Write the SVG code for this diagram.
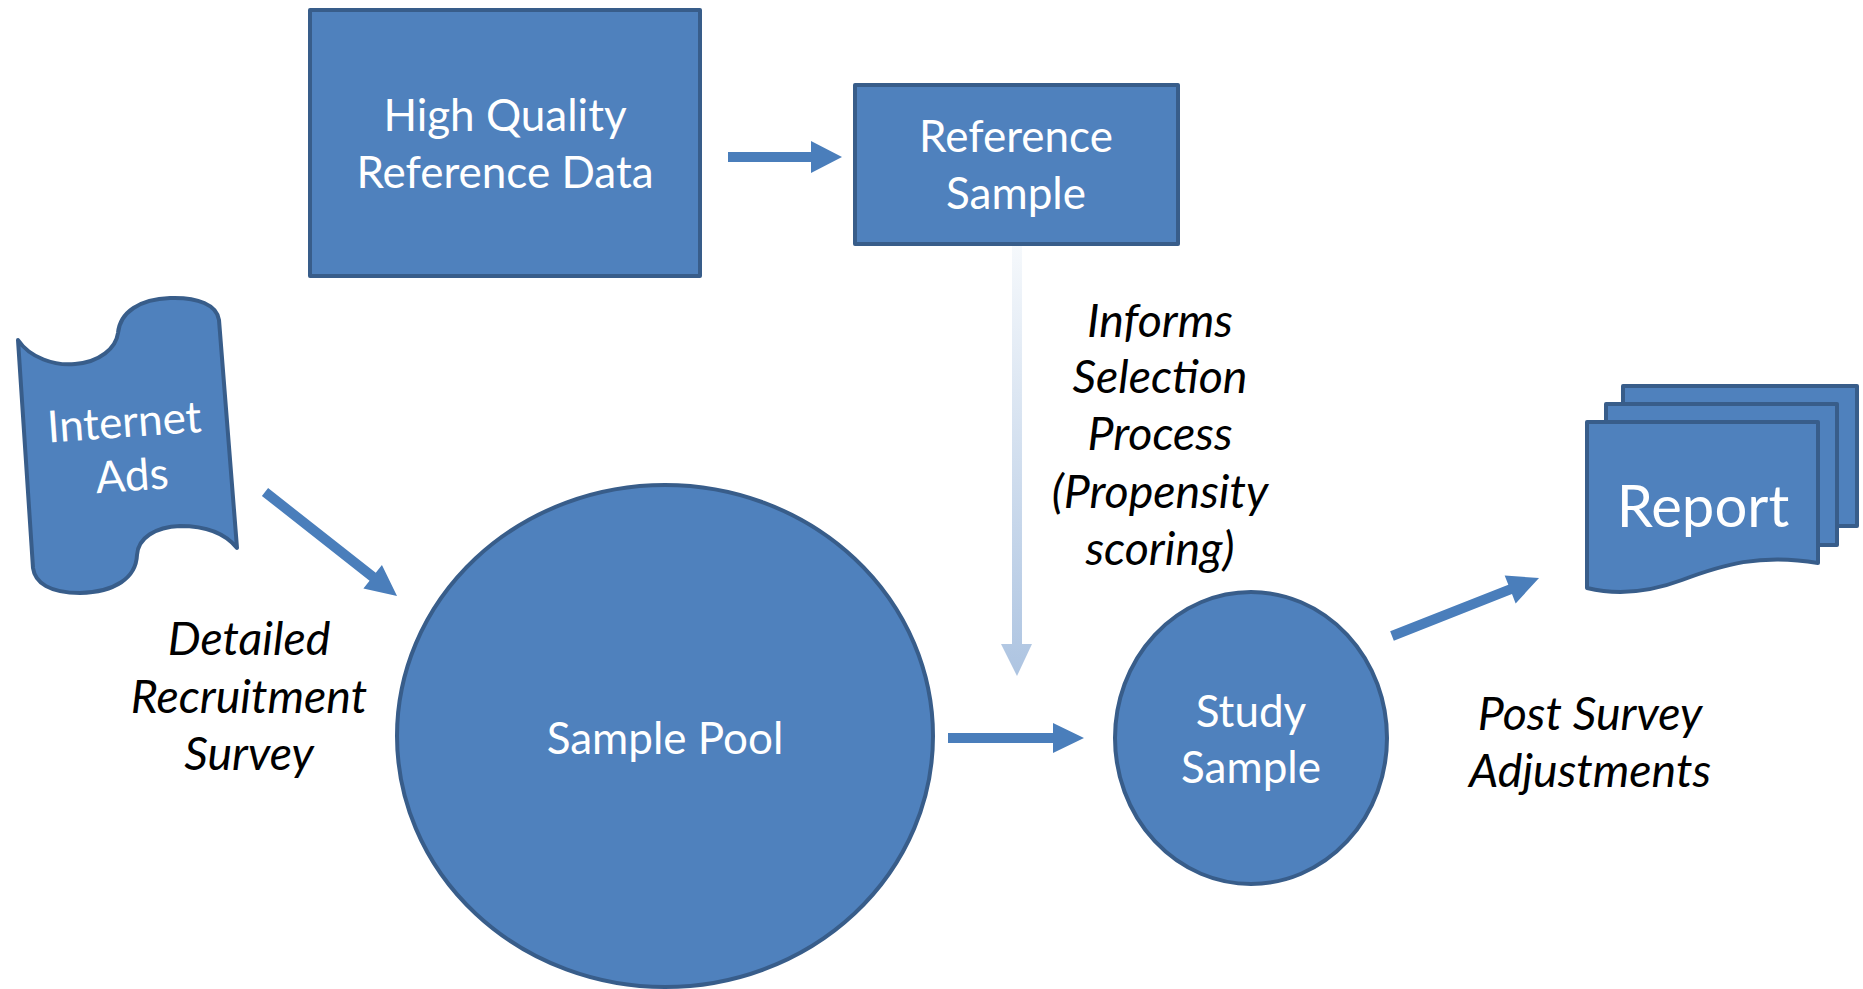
<svg xmlns="http://www.w3.org/2000/svg" width="1863" height="989" viewBox="0 0 1863 989">
<defs>
<linearGradient id="fade" gradientUnits="userSpaceOnUse" x1="0" y1="243" x2="0" y2="676">
<stop offset="0" stop-color="#f6f9fc"/>
<stop offset="1" stop-color="#adc4e1"/>
</linearGradient>
</defs>
<style>
.shape{fill:#4f81bd;stroke:#385d8a;stroke-width:4;stroke-linejoin:round}
.arrow{fill:#4a7ebb}
.nt{font-family:Lato,"Open Sans","Liberation Sans",sans-serif;font-size:44px;fill:#ffffff;text-anchor:middle}
.lb{font-family:Lato,"Open Sans","Liberation Sans",sans-serif;font-size:46.5px;font-style:italic;fill:#000000;text-anchor:middle}
</style>
<rect width="1863" height="989" fill="#ffffff"/>
<g id="connectors">
<polygon class="arrow" points="728,152 811,152 811,141 842,157 811,173 811,162 728,162"/>
<polygon fill="url(#fade)" points="1012,243 1022,243 1022,644 1032,644 1017,676 1001,644 1012,644"/>
<polygon class="arrow" transform="translate(265,492) rotate(38.2)" points="0,-5 137,-5 137,-15 168,0 137,15 137,5 0,5"/>
<polygon class="arrow" points="948,733 1053,733 1053,723 1084,738 1053,753 1053,743 948,743"/>
<polygon class="arrow" transform="translate(1392,636) rotate(-21.5)" points="0,-5 127,-5 127,-15 158,0 127,15 127,5 0,5"/>
</g>
<g id="high-quality-reference-data">
<rect class="shape" x="310" y="10" width="390" height="266"/>
<text class="nt" x="505" y="131">High Quality</text>
<text class="nt" x="505" y="188">Reference Data</text>
</g>
<g id="reference-sample">
<rect class="shape" x="855" y="85" width="323" height="159"/>
<text class="nt" x="1016" y="152">Reference</text>
<text class="nt" x="1016" y="209">Sample</text>
</g>
<g id="internet-ads">
<path class="shape" d="M18,340 C30,358 55,366 75,364 C100,362 116,348 118,333 C120,312 140,299 170,298 C198,297 217,305 219,320 L237,548 C225,533 205,526 180,526 C155,527 138,538 137,555 C136,578 115,592 80,593 C50,593 35,583 33,568 Z"/>
<g transform="rotate(-4 129 462)">
<text class="nt" x="127" y="437">Internet</text>
<text class="nt" x="131" y="491">Ads</text>
</g>
</g>
<g id="sample-pool">
<ellipse class="shape" cx="665" cy="736" rx="268" ry="251"/>
<text class="nt" x="665" y="754">Sample Pool</text>
</g>
<g id="study-sample">
<ellipse class="shape" cx="1251" cy="738" rx="136" ry="146"/>
<text class="nt" x="1251" y="727">Study</text>
<text class="nt" x="1251" y="783">Sample</text>
</g>
<g id="report">
<rect class="shape" x="1623" y="386" width="234" height="140"/>
<rect class="shape" x="1606" y="404" width="231" height="141"/>
<path class="shape" d="M1587,422 L1818,422 L1818,563 C1760,553 1722,565 1682,580 C1642,595 1612,594 1587,588 Z"/>
<text class="nt" x="1703" y="527" style="font-size:58px">Report</text>
</g>
<g id="labels">
<text class="lb" x="1160" y="337">Informs</text>
<text class="lb" x="1160" y="393">Selection</text>
<text class="lb" x="1160" y="450">Process</text>
<text class="lb" x="1160" y="508">(Propensity</text>
<text class="lb" x="1160" y="565">scoring)</text>
<text class="lb" x="249" y="655">Detailed</text>
<text class="lb" x="249" y="713">Recruitment</text>
<text class="lb" x="249" y="770">Survey</text>
<text class="lb" x="1590" y="730">Post Survey</text>
<text class="lb" x="1590" y="787">Adjustments</text>
</g>
</svg>
